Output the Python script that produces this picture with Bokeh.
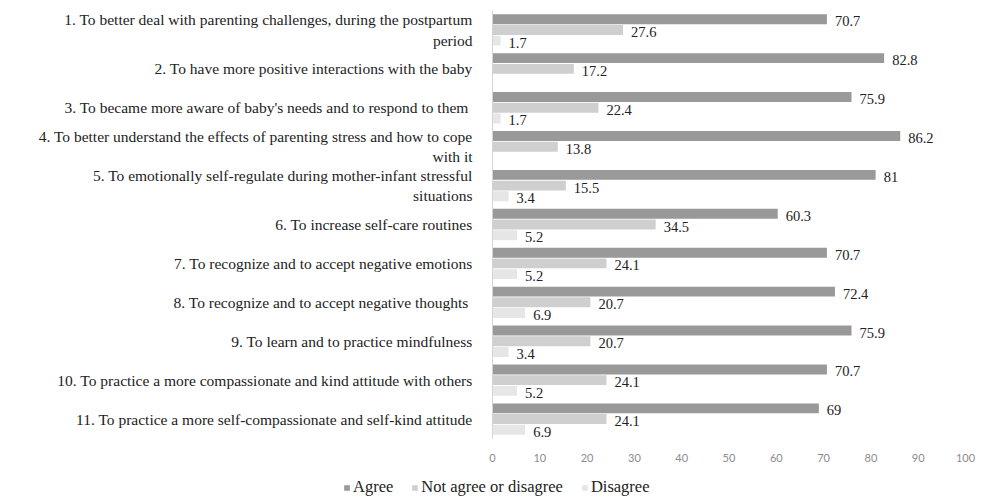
from bokeh.plotting import figure
from bokeh.layouts import column
from bokeh.models import ColumnDataSource, FactorRange, Range1d, Legend, LegendItem, FixedTicker
from bokeh.transform import dodge
from bokeh.core.properties import value
from bokeh.embed import file_html
from bokeh.resources import INLINE

categories = [
    "1. To better deal with parenting challenges, during the postpartum\nperiod",
    "2. To have more positive interactions with the baby",
    "3. To became more aware of baby's needs and to respond to them ",
    "4. To better understand the effects of parenting stress and how to cope\nwith it",
    "5. To emotionally self-regulate during mother-infant stressful\nsituations",
    "6. To increase self-care routines",
    "7. To recognize and to accept negative emotions",
    "8. To recognize and to accept negative thoughts ",
    "9. To learn and to practice mindfulness",
    "10. To practice a more compassionate and kind attitude with others",
    "11. To practice a more self-compassionate and self-kind attitude",
]
agree = [70.7, 82.8, 75.9, 86.2, 81, 60.3, 70.7, 72.4, 75.9, 70.7, 69]
neutral = [27.6, 17.2, 22.4, 13.8, 15.5, 34.5, 24.1, 20.7, 20.7, 24.1, 24.1]
disagree = [1.7, 0, 1.7, 0, 3.4, 5.2, 5.2, 6.9, 3.4, 5.2, 6.9]
series_names = ["Agree", "Not agree or disagree", "Disagree"]
x_ticks = [0, 10, 20, 30, 40, 50, 60, 70, 80, 90, 100]

colors = ["#999999", "#cfcfcf", "#e6e6e6"]
offsets = [0.275, 0.0, -0.275]
serif = "Liberation Serif"

p = figure(width=986, height=464, output_backend="svg", toolbar_location=None,
           y_range=FactorRange(factors=list(reversed(categories)), range_padding=0),
           x_range=Range1d(0, 100),
           min_border_left=492, min_border_right=21, min_border_top=10, min_border_bottom=22)
p.outline_line_color = None
p.grid.visible = False

for name, vals, col, off in zip(series_names, [agree, neutral, disagree], colors, offsets):
    cats = [c for c, v in zip(categories, vals) if v > 0]
    vv = [v for v in vals if v > 0]
    src = ColumnDataSource(dict(cat=cats, val=vv, lbl=[f"{v:g}" for v in vv]))
    p.hbar(y=dodge("cat", off, range=p.y_range), right="val", left=0, height=0.255,
           source=src, fill_color=col, line_color=None)
    p.text(x="val", y=dodge("cat", off, range=p.y_range), text="lbl", source=src,
           x_offset=8, y_offset=2, text_baseline="middle", text_align="left",
           text_font=value(serif), text_font_size="14.5px", text_color="#222222")

# x axis
xa = p.xaxis[0]
xa.ticker = FixedTicker(ticks=x_ticks)
xa.axis_line_color = None
xa.major_tick_line_color = None
xa.minor_tick_line_color = None
xa.major_label_text_font = "Lato"
xa.major_label_text_font_size = "11px"
xa.major_label_text_color = "#8c8c8c"
xa.major_label_standoff = 9

# y axis
ya = p.yaxis[0]
ya.axis_line_color = "#d4d4d4"
ya.axis_line_width = 1
ya.major_tick_line_color = None
ya.minor_tick_line_color = None
ya.major_label_text_font = serif
ya.major_label_text_font_size = "15.5px"
ya.major_label_text_color = "#222222"
ya.major_label_standoff = 14

# legend strip (swatch renderers have zero size; only their legend entries show)
lf = figure(width=986, height=33, output_backend="svg", toolbar_location=None,
            x_range=Range1d(0, 1), y_range=Range1d(0, 1),
            x_axis_location=None, y_axis_location=None, min_border=0)
lf.outline_line_color = None
lf.grid.visible = False
for fig in (p, lf):
    if "frame_align" in fig.properties():
        fig.frame_align = False
items = []
for name, col in zip(series_names, colors):
    r = lf.hbar(y=[0.5], left=[0], right=[0], height=0.0, fill_color=col, line_color=None)
    items.append(LegendItem(label=name, renderers=[r]))
legend = Legend(items=items, orientation="horizontal", location=(343, 0),
                padding=0, margin=0, spacing=18, label_standoff=3,
                glyph_width=7, glyph_height=7, label_height=12,
                label_text_font=serif, label_text_font_size="16.5px", label_text_color="#222222",
                border_line_color=None, background_fill_alpha=0)
lf.add_layout(legend, "center")

open("out.html", "w").write(file_html(column(p, lf, spacing=0), INLINE))
